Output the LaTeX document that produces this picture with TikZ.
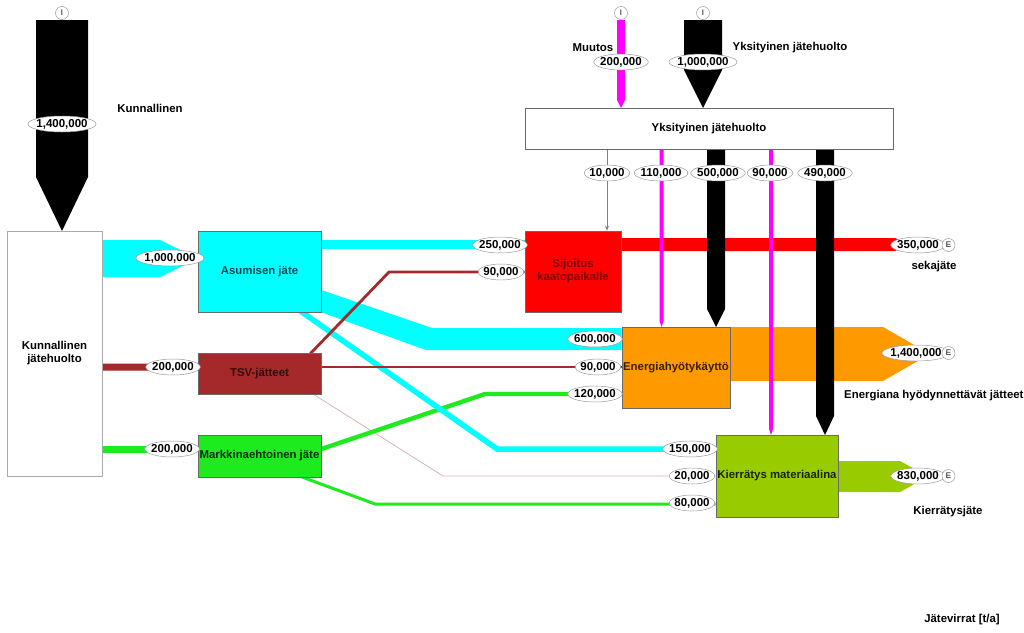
\documentclass[tikz,border=0pt]{standalone}
\usepackage{fontspec}
\setmainfont{Liberation Sans}
\usetikzlibrary{shapes.geometric,arrows.meta,calc}
\pgfdeclarelayer{bg}
\pgfsetlayers{bg,main}
\definecolor{cyanC}{RGB}{0,255,255}
\definecolor{brownC}{RGB}{165,40,42}
\definecolor{greenC}{RGB}{30,235,30}
\definecolor{oliveC}{RGB}{153,204,0}
\definecolor{orangeC}{RGB}{255,153,0}
\definecolor{magC}{RGB}{255,0,255}
\definecolor{redC}{RGB}{255,0,0}
\definecolor{pinkC}{RGB}{215,180,180}
\definecolor{edgeC}{RGB}{105,105,105}
\definecolor{lightedgeC}{RGB}{170,170,170}
\begin{document}
\begin{tikzpicture}[x=1pt,y=-1pt,
  box/.style={draw=edgeC, line width=0.6pt, inner sep=1pt, align=center,
    font=\bfseries\fontsize{11.4}{13}\selectfont},
  val/.style={ellipse, draw=gray!80, fill=white, line width=0.5pt,
    inner xsep=-1.5pt, inner ysep=0.5pt, minimum height=16pt,
    font=\bfseries\fontsize{11.5}{12}\selectfont},
  io/.style={circle, draw=gray!80, fill=white, line width=0.5pt, inner sep=0pt,
    minimum size=13pt, font=\fontsize{8}{8}\selectfont},
  lab/.style={font=\bfseries\fontsize{11.4}{13}\selectfont},
  flowline/.style={line cap=butt, line join=miter}
]
\useasboundingbox (0,0) rectangle (1024,632);

% ---------- boxes ----------
\node[box, draw=lightedgeC, fill=white, minimum width=95pt, minimum height=245pt] (kj) at (54.5,353.5) {Kunnallinen\\jätehuolto};
\node[box, fill=cyanC, text={rgb,255:red,0;green,70;blue,80}, minimum width=123pt, minimum height=81pt] (aj) at (259.5,271.5) {Asumisen jäte};
\node[box, fill=brownC, text={rgb,255:red,55;green,10;blue,10}, minimum width=123pt, minimum height=41pt] (tsv) at (259.5,373.5) {TSV-jätteet};
\node[box, fill=greenC, text={rgb,255:red,0;green,45;blue,0}, minimum width=123pt, minimum height=42pt] (mj) at (259.5,456) {Markkinaehtoinen jäte};
\node[box, fill=redC, text={rgb,255:red,125;green,0;blue,0}, minimum width=96pt, minimum height=81pt] (sk) at (573,271.5) {Sijoitus\\kaatopaikalle};
\node[box, fill=orangeC, text={rgb,255:red,60;green,30;blue,0}, minimum width=108pt, minimum height=81pt] (eh) at (676,367.5) {Energiahyötykäyttö};
\node[box, fill=oliveC, text={rgb,255:red,25;green,35;blue,0}, minimum width=122pt, minimum height=82pt] (km) at (777,476) {Kierrätys materiaalina};
\node[box, fill=white, minimum width=368pt, minimum height=41pt] (yj) at (709,128.5) {Yksityinen jätehuolto};

% ---------- flows (background) ----------
\begin{pgfonlayer}{bg}
% source Kunnallinen
\fill[black] (36,20) -- (88,20) -- (88,177) -- (62,231) -- (36,177) -- cycle;
% Kunnallinen -> boxes
\fill[cyanC] (kj.east |- 0,240) -- (160,240) -- (aj.west |- 0,258.5) -- (160,277) -- (kj.east |- 0,277) -- cycle;
\fill[brownC] (kj.east |- 0,363.7) -- (190,363.7) -- (tsv.west |- 0,367.2) -- (190,370.7) -- (kj.east |- 0,370.7) -- cycle;
\fill[greenC] (kj.east |- 0,446) -- (191,446) -- (mj.west |- 0,449.5) -- (191,453) -- (kj.east |- 0,453) -- cycle;
% Asumisen -> Sijoitus / Energia
\fill[cyanC] (aj.east |- 0,240) -- (sk.west |- 0,240) -- (sk.west |- 0,249) -- (aj.east |- 0,249) -- cycle;
\fill[cyanC] (aj.east |- 0,290) -- (432,328) -- (eh.west |- 0,328) -- (eh.west |- 0,350) -- (426,350) -- (aj.south east) -- cycle;
% thin TSV -> Kierratys
\draw[flowline, pinkC, line width=0.8pt] (313,394) -- (443,476) -- (km.west |- 0,476);
% green lines
\draw[flowline, greenC, line width=4.4pt] (mj.east |- 0,449) -- (485,394) -- (eh.west |- 0,394);
\draw[flowline, greenC, line width=3pt] (302,477) -- (375,504) -- (km.west |- 0,504);
% cyan Asumisen -> Kierratys
\draw[flowline, cyanC, line width=5.5pt] (299,310) -- (497,449) -- (km.west |- 0,449);
% brown lines
\draw[flowline, brownC, line width=2.8pt] (310,354) -- (389,272) -- (sk.west |- 0,272);
\draw[flowline, brownC, line width=2.8pt] (tsv.east |- 0,367) -- (eh.west |- 0,367);
% outputs
\fill[redC] (sk.east |- 0,238) -- (895,238) -- (908,244.5) -- (895,251) -- (sk.east |- 0,251) -- cycle;
\fill[orangeC] (eh.east |- 0,327) -- (883,327) -- (930,354) -- (883,381) -- (eh.east |- 0,381) -- cycle;
\fill[oliveC] (km.east |- 0,461) -- (900,461) -- (928,476.5) -- (900,492) -- (km.east |- 0,492) -- cycle;
% inputs to Yksityinen
\fill[magC] (617,20) -- (625,20) -- (625,100) -- (621,108) -- (617,100) -- cycle;
\fill[black] (684,20) -- (722,20) -- (722,70) -- (703,108) -- (684,70) -- cycle;
% outputs of Yksityinen
\fill[magC] (659.5,148) -- (663.5,148) -- (663.5,321) -- (661.5,327) -- (659.5,321) -- cycle;
\fill[black] (707,148) -- (725,148) -- (725,309) -- (716,327) -- (707,309) -- cycle;
\fill[magC] (769,148) -- (773,148) -- (773,429) -- (771,435) -- (769,429) -- cycle;
\fill[black] (816,148) -- (834,148) -- (834,416) -- (825,435) -- (816,416) -- cycle;
\draw[gray, line width=0.6pt, -{Stealth[length=5pt,width=4pt]}] (607,0 |- yj.south) -- (607,0 |- sk.north);
\end{pgfonlayer}

% ---------- value labels ----------
\node[io] (i1) at (62,13) {I};
\node[io] (i2) at (621,13) {I};
\node[io] (i3) at (703,13) {I};
\node[val] (v1) at (62,124) {1,400,000};
\node[val] (v2) at (621,62) {200,000};
\node[val] (v3) at (703,62) {1,000,000};
\node[val] (v4) at (170,258) {1,000,000};
\node[val] (v5) at (173,367) {200,000};
\node[val] (v6) at (172,449) {200,000};
\node[val] (v7) at (500,245) {250,000};
\node[val] (v8) at (501,272) {90,000};
\node[val] (v9) at (595,339) {600,000};
\node[val] (v10) at (598,367) {90,000};
\node[val] (v11) at (595,394) {120,000};
\node[val] (v12) at (690,449) {150,000};
\node[val] (v13) at (692,476) {20,000};
\node[val] (v14) at (692,503) {80,000};
\node[val] (v15) at (607,173) {10,000};
\node[val] (v16) at (661,173) {110,000};
\node[val] (v17) at (718,173) {500,000};
\node[val] (v18) at (770,173) {90,000};
\node[val] (v19) at (825,173) {490,000};
\node[val] (v20) at (918,245) {350,000};
\node[io] (e1) at (948.5,245) {E};
\node[val] (v21) at (916,353) {1,400,000};
\node[io] (e2) at (948.5,353) {E};
\node[val] (v22) at (918,476) {830,000};
\node[io] (e3) at (948.5,476) {E};

% ---------- text labels ----------
\node[lab] (t1) at (150,108) {Kunnallinen};
\node[lab] (t2) at (593,48) {Muutos};
\node[lab] (t3) at (790,48) {Yksityinen jätehuolto};
\node[lab] (t4) at (934,267) {sekajäte};
\node[lab, anchor=west, inner sep=0pt] (t5) at (844,396) {Energiana hyödynnettävät jätteet};
\node[lab] (t6) at (948,512) {Kierrätysjäte};
\node[lab] (t7) at (962,620) {Jätevirrat [t/a]};
\end{tikzpicture}
\end{document}
